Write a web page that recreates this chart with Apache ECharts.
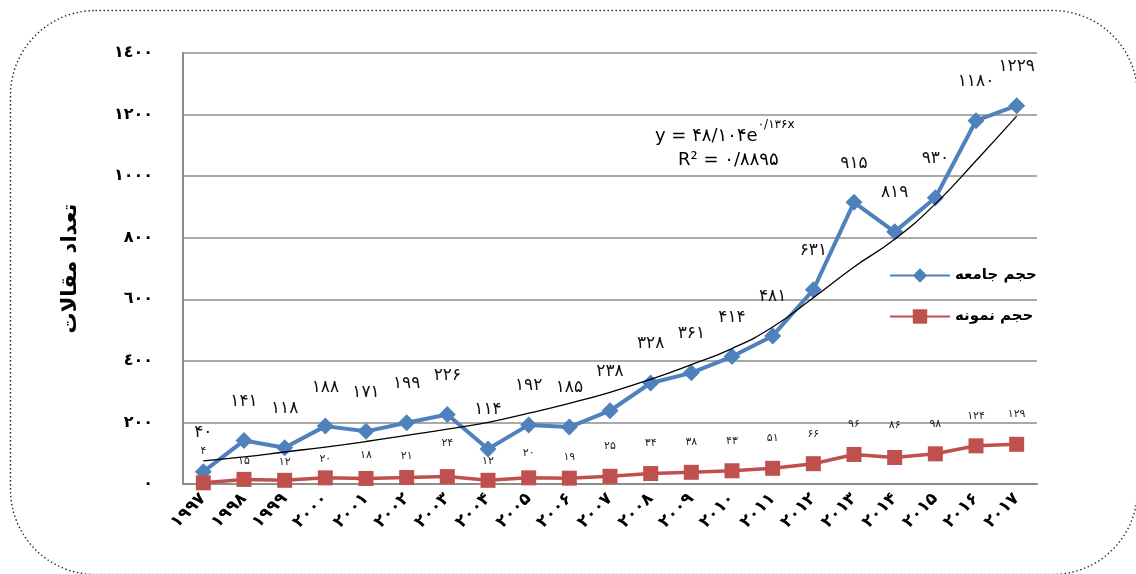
<!DOCTYPE html>
<html><head><meta charset="utf-8">
<script src="https://cdn.jsdelivr.net/npm/echarts@6/dist/echarts.min.js"></script>
<style>html,body{margin:0;padding:0;background:#fff}#c{width:1136px;height:574px}</style>
</head><body><div id="c"></div>
<script>
const years = ['۱۹۹۷','۱۹۹۸','۱۹۹۹','۲۰۰۰','۲۰۰۱','۲۰۰۲','۲۰۰۳','۲۰۰۴','۲۰۰۵','۲۰۰۶','۲۰۰۷','۲۰۰۸','۲۰۰۹','۲۰۱۰','۲۰۱۱','۲۰۱۲','۲۰۱۳','۲۰۱۴','۲۰۱۵','۲۰۱۶','۲۰۱۷'];
const population = [40,141,118,188,171,199,226,114,192,185,238,328,361,414,481,631,915,819,930,1180,1229];
const sample = [4,15,12,20,18,21,24,12,20,19,25,34,38,43,51,66,96,86,98,124,129];
const trendValues = [75,88,104,120,138,158,178,200,230,262,298,340,388,440,510,605,705,795,910,1050,1195];
const yTickLabels = {0:'٠',200:'٢٠٠',400:'٤٠٠',600:'٦٠٠',800:'٨٠٠',1000:'١٠٠٠',1200:'١٢٠٠',1400:'١٤٠٠'};
const seriesNames = ['حجم جامعه','حجم نمونه'];
const yAxisTitle = 'تعداد مقالات';
const eqLine1 = 'y = ۴۸/۱۰۴e';
const eqSup = '۰/۱۳۶x';
const eqLine2 = 'R² = ۰/۸۸۹۵';

// styling only: label distances for the sample series (as placed in the original)
const sampleLabelDistance = [19,5,5,6,10,8,20,6,12,8,17,17,17,17,17,17,17,19,17,17,17];

const fa = n => String(n).replace(/\d/g, d => '۰۱۲۳۴۵۶۷۸۹'[d]);
const FONT = 'DejaVu Sans';

const sampleData = sample.map((v, i) => ({value: v, label: {distance: sampleLabelDistance[i]}}));

const chart = echarts.init(document.getElementById('c'));
chart.setOption({
  backgroundColor: '#fff',
  animation: false,
  textStyle: {fontFamily: FONT},
  grid: {left: 183, right: 99, top: 53, bottom: 90},
  legend: {
    orient: 'vertical', left: 884, top: 263, itemGap: 26,
    itemWidth: 60, itemHeight: 18,
    data: seriesNames,
    textStyle: {fontFamily: FONT, fontWeight: 'bold', fontSize: 15, color: '#000'}
  },
  xAxis: {
    type: 'category', data: years, boundaryGap: true,
    axisLine: {lineStyle: {color: '#8c8c8c', width: 2}},
    axisTick: {show: false},
    axisLabel: {rotate: 45, fontSize: 17, fontWeight: 'bold', color: '#000', margin: 12, interval: 0, fontFamily: FONT}
  },
  yAxis: {
    type: 'value', min: 0, max: 1400, interval: 200,
    name: yAxisTitle, nameLocation: 'middle', nameRotate: 90, nameGap: 102,
    nameTextStyle: {fontSize: 21, fontWeight: 'bold', color: '#000', fontFamily: FONT},
    axisLine: {show: true, lineStyle: {color: '#8c8c8c', width: 2}},
    axisTick: {show: false},
    splitLine: {lineStyle: {color: '#8c8c8c', width: 1.5}},
    axisLabel: {margin: 30, fontSize: 16, fontWeight: 'bold', color: '#000', formatter: v => yTickLabels[v], fontFamily: FONT}
  },
  series: [
    {
      name: seriesNames[0], type: 'line', data: population,
      symbol: 'diamond', symbolSize: 17,
      lineStyle: {color: '#4F81BD', width: 4},
      itemStyle: {color: '#4F81BD'},
      label: {show: true, position: 'top', distance: 22, fontSize: 17, color: '#111', formatter: p => fa(p.value), fontFamily: FONT},
      z: 3
    },
    {
      name: seriesNames[1], type: 'line', data: sampleData,
      symbol: 'rect', symbolSize: 15,
      lineStyle: {color: '#C0504D', width: 3.5},
      itemStyle: {color: '#C0504D'},
      label: {show: true, position: 'top', distance: 16, fontSize: 11, color: '#222', formatter: p => fa(p.value), fontFamily: FONT},
      z: 3
    },
    {
      name: 'trend', type: 'line', data: trendValues, smooth: true,
      symbol: 'none', silent: true,
      lineStyle: {color: '#000', width: 1.3},
      z: 4
    }
  ],
  graphic: [
    {type: 'rect', left: 8, top: 8, shape: {width: 1127, height: 564, r: 85},
     style: {fill: 'none', stroke: '#222', lineWidth: 1.4, lineDash: [1.4, 2.6]}, silent: true},
    {type: 'text', left: 655, top: 119,
     style: {text: '{a|' + eqLine1 + '}{s|' + eqSup + '}', rich: {
       a: {fontSize: 18, fontFamily: FONT, fill: '#000', lineHeight: 26, verticalAlign: 'bottom'},
       s: {fontSize: 12, fontFamily: FONT, fill: '#000', verticalAlign: 'top', lineHeight: 26, padding: [0,0,10,0]}
     }}},
    {type: 'text', left: 678, top: 151,
     style: {text: eqLine2, fontSize: 18, fontFamily: FONT, fill: '#000'}}
  ]
});
</script></body></html>
